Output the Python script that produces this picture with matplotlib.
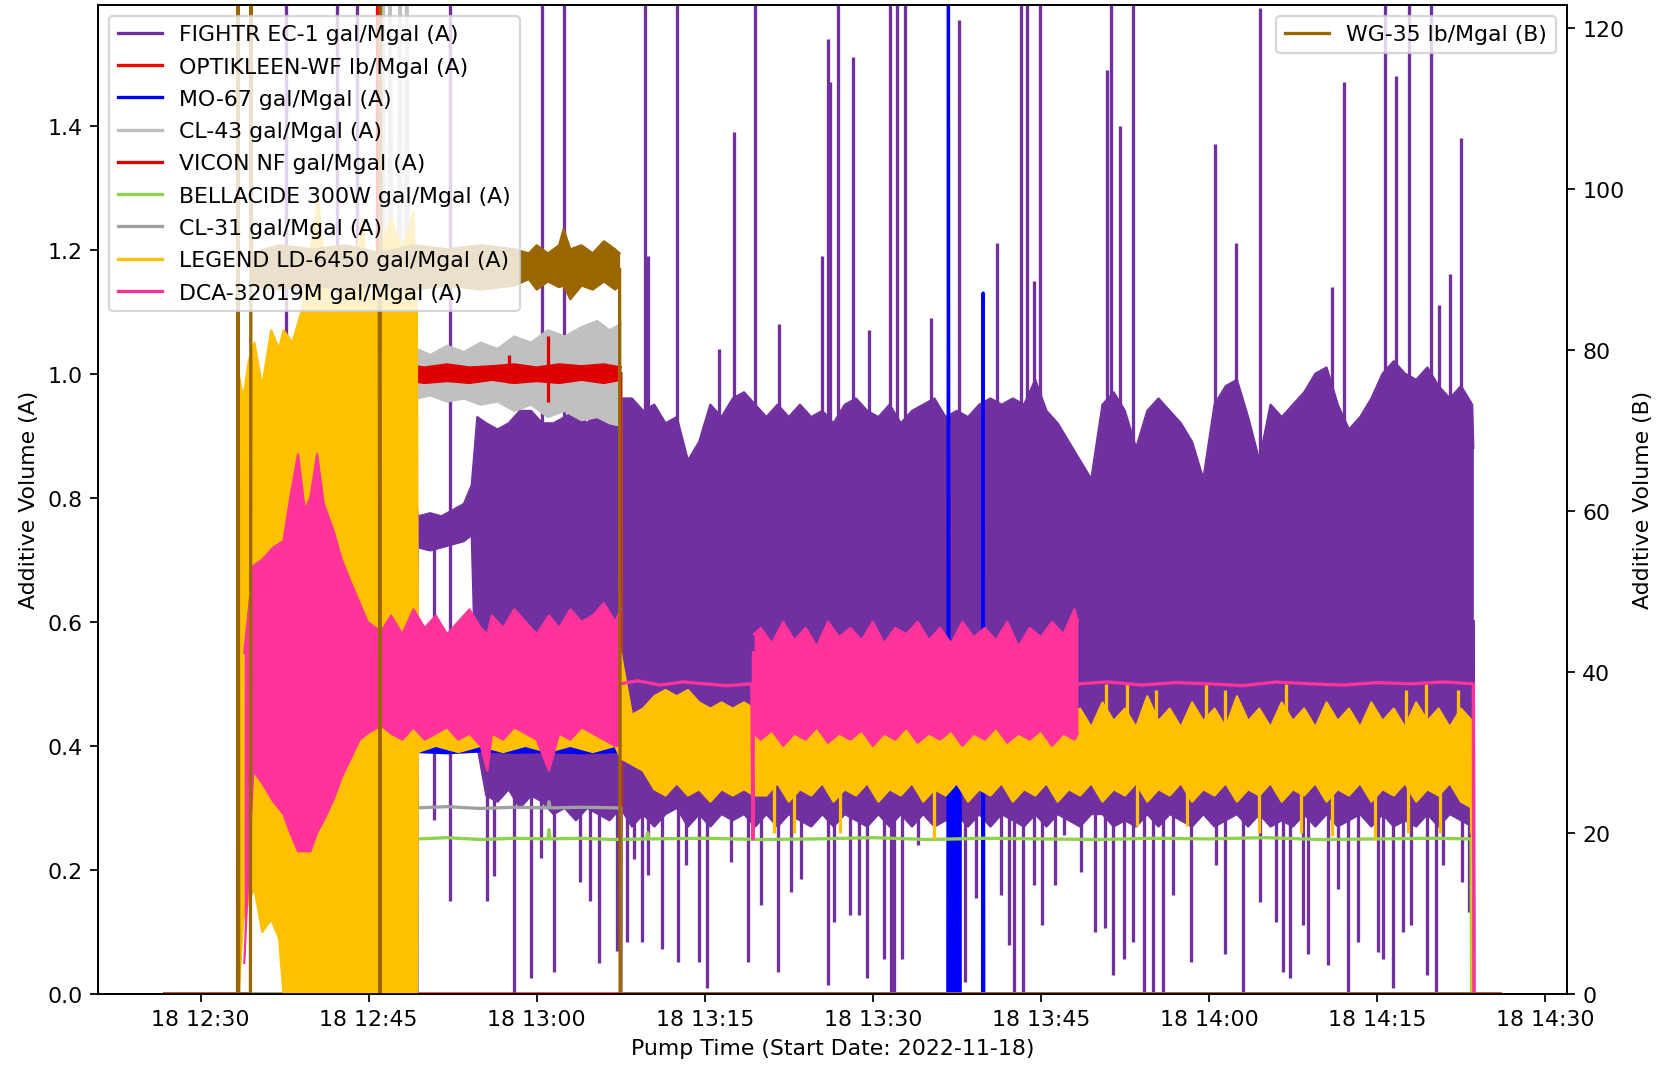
import numpy as np
import matplotlib
matplotlib.use('Agg')
import matplotlib.pyplot as plt
import matplotlib.dates as mdates

nan = np.nan
# times: minutes after 2022-11-18 12:00

# %% FIGHTR EC-1 (A) - dense band: upper / lower envelope + spikes
fightr_t = [33.5, 35, 37, 39, 41, 43, 45, 47, 49.2,
            49.4, 50.5, 51.5, 52.5, 53.5, 54.2,
            54.7, 55.5, 56.5, 57.5, 58.5, 59.5, 60.5, 61.5, 62.5, 63.5, 64.5, 65.5, 66.5, 67.5,
            68.5, 69.5, 70.5, 71.5, 72.5, 73.5, 74.5, 75.5, 76.5, 77.5,
            78.5, 79.5, 80.5, 81.5, 82.5, 83.5, 84.5, 85.5, 86.5, 87.5,
            88.5, 89.5, 90.5, 91.5, 92.5, 93.5, 94.5, 95.5, 96.5, 97.5,
            98.5, 99.5, 100.5, 101.5, 102.5, 103.5, 104.5, 105.5, 106.5, 107.5,
            108.5, 109.5, 110.5, 111.5, 112.5, 113.5, 114.5, 115.5, 116.5, 117.5,
            118.5, 119.5, 120.5, 121.5, 122.5, 123.5, 124.5, 125.5, 126.5, 127.5,
            128.5, 129.5, 130.5, 131.5, 132.5, 133.5, 134.5, 135.5, 136.5, 137.5,
            138.5, 139.5, 140.5, 141.5, 142.5, 143.5, 143.6]
fightr_hi = [0.85, 0.85, 0.88, 0.85, 0.9, 0.85, 0.88, 0.85, 0.8,
             0.77, 0.775, 0.77, 0.78, 0.79, 0.82,
             0.93, 0.92, 0.91, 0.92, 0.94, 0.94, 0.92, 0.92, 0.93, 0.94, 0.92, 0.94, 0.95, 0.96,
             0.96, 0.94, 0.95, 0.92, 0.93, 0.86, 0.89, 0.95, 0.93, 0.96,
             0.97, 0.95, 0.93, 0.95, 0.93, 0.95, 0.93, 0.94, 0.92, 0.95,
             0.96, 0.94, 0.93, 0.95, 0.92, 0.94, 0.95, 0.96, 0.93, 0.94,
             0.93, 0.95, 0.96, 0.95, 0.96, 0.95, 0.99, 0.94, 0.92, 0.89,
             0.86, 0.83, 0.95, 0.97, 0.94, 0.88, 0.94, 0.96, 0.94, 0.92,
             0.89, 0.83, 0.95, 0.98, 0.99, 0.93, 0.86, 0.95, 0.93, 0.95,
             0.97, 1.0, 1.01, 0.95, 0.91, 0.93, 0.96, 1.0, 1.02, 1.0,
             0.99, 1.01, 0.98, 0.96, 0.98, 0.95, 0.88]
fightr_lo = [0.4, 0.4, 0.4, 0.4, 0.4, 0.4, 0.4, 0.4, 0.4,
             0.72, 0.715, 0.72, 0.725, 0.73, 0.74,
             0.40, 0.32, 0.31, 0.33, 0.30, 0.32, 0.31, 0.29, 0.30, 0.28, 0.30, 0.29, 0.28, 0.30,
             0.27, 0.29, 0.27, 0.29, 0.30, 0.27, 0.29, 0.27, 0.29, 0.28,
             0.29, 0.27, 0.29, 0.27, 0.29, 0.28, 0.27, 0.29, 0.27, 0.29,
             0.28, 0.27, 0.29, 0.27, 0.29, 0.27, 0.29, 0.27, 0.28, 0.29,
             0.27, 0.29, 0.27, 0.29, 0.28, 0.27, 0.29, 0.27, 0.29, 0.28,
             0.27, 0.29, 0.29, 0.27, 0.28, 0.27, 0.29, 0.27, 0.29, 0.28,
             0.27, 0.29, 0.27, 0.28, 0.29, 0.27, 0.29, 0.27, 0.28, 0.27,
             0.29, 0.27, 0.29, 0.27, 0.28, 0.29, 0.27, 0.29, 0.27, 0.28,
             0.27, 0.29, 0.27, 0.29, 0.28, 0.27, 0.3]
fightr_up_t = [37.6, 42.2, 44.0, 52.3, 60.5, 62.4, 69.7, 69.9, 72.5, 76.3, 77.6, 79.5, 81.6,
               85.5, 86.0, 86.2, 86.9, 88.2, 89.7, 91.5, 92.2, 92.9, 95.2, 97.7, 101.1,
               103.2, 103.8, 104.4, 104.9, 110.9, 111.3, 112.1, 113.2, 120.5, 122.4, 124.6,
               131.0, 132.1, 135.7, 136.7, 137.9, 139.8, 140.5, 141.5, 142.5]
fightr_up_v = [1.7, 1.7, 1.7, 1.7, 1.7, 1.7, 1.7, 1.19, 1.7, 1.04, 1.39, 1.7, 1.08,
               1.19, 1.54, 1.47, 1.7, 1.51, 1.07, 1.7, 1.7, 1.7, 1.09, 1.57, 1.21,
               1.7, 1.7, 1.15, 1.7, 1.49, 1.7, 1.4, 1.7, 1.37, 1.21, 1.59,
               1.14, 1.47, 1.7, 1.48, 1.7, 1.7, 1.11, 1.16, 1.38]
fightr_dn_t = [42.0, 43.5, 50.8, 52.3, 55.6, 56.2, 58.0, 59.5, 60.4, 61.5, 63.9, 64.8, 65.6, 67.2,
               68.1, 68.7, 69.4, 69.9, 71.2, 72.6, 73.3, 74.5, 75.2, 77.3, 78.9, 80.0, 81.5,
               82.7, 83.6, 86.0, 86.5, 88.0, 88.8, 89.5, 91.0, 91.6, 91.9, 92.6, 94.0,
               98.2, 99.2, 101.4, 102.2, 102.6, 103.4, 104.4, 105.1, 106.3, 107.1, 108.6,
               109.8, 110.7, 111.4, 112.4, 113.2, 114.2, 115.0, 115.9, 116.8, 118.4, 120.6,
               121.4, 123.0, 124.6, 126.0, 126.6, 127.2, 128.4, 128.8, 130.6, 131.5, 132.4,
               133.3, 135.1, 135.5, 136.4, 137.3, 138.0, 139.5, 140.3, 140.9, 142.6, 143.2]
fightr_dn_v = [0.0, 0.0, 0.28, 0.15, 0.15, 0.19, 0.0, 0.025, 0.22, 0.036, 0.18, 0.15, 0.05, 0.07,
               0.084, 0.218, 0.084, 0.191, 0.073, 0.052, 0.208, 0.052, 0.009, 0.213, 0.052, 0.143, 0.036,
               0.165, 0.186, 0.014, 0.116, 0.127, 0.127, 0.025, 0.057, 0.003, 0.003, 0.057, 0.24,
               0.019, 0.154, 0.159, 0.079, 0.003, 0.003, 0.175, 0.111, 0.175, 0.256, 0.197,
               0.1, 0.106, 0.031, 0.057, 0.084, 0.003, 0.003, 0.003, 0.159, 0.052, 0.208,
               0.065, 0.003, 0.149, 0.116, 0.036, 0.025, 0.111, 0.065, 0.047, 0.17, 0.003,
               0.084, 0.068, 0.057, 0.009, 0.1, 0.111, 0.031, 0.003, 0.208, 0.18, 0.132]
fightr_line_t = [26.8, 33.5, nan, 143.6, 143.65, 146.0]
fightr_line_v = [0, 0, nan, 0.6, 0, 0]

# %% OPTIKLEEN-WF (A)
opti_t = [26.8, 45.75, 45.8, 45.85, 146.0]
opti_v = [0, 0, 1.7, 0, 0]

# %% MO-67 (A)
mo_t = [26.8, 49.3, 49.35, 51, 53, 55, 57, 59, 61, 63, 65, 67.5, 67.55,
        96.7, 96.75, 96.8, 99.8, 99.85, 99.9, 146.0]
mo_v = [0, 0, 0.4, 0.398, 0.402, 0.4, 0.397, 0.401, 0.4, 0.398, 0.402, 0.4, 0,
        0, 1.7, 0, 0, 1.13, 0, 0]
mo_band_t = [49.35, 52, 55, 58, 61, 64, 67.5, nan, 96.8, 97.2, 97.6, 97.9, nan, 99.65, 100.0]
mo_band_hi = [0.408, 0.41, 0.407, 0.41, 0.408, 0.41, 0.408, nan, 0.33, 0.34, 0.33, 0.33, nan, 0.33, 0.33]
mo_band_lo = [0.39, 0.388, 0.391, 0.389, 0.39, 0.388, 0.39, nan, 0, 0, 0, 0, nan, 0, 0]

# %% CL-43 (A)
cl43_t = [26.8, 46.0, 46.3, 46.6, 46.9, 47.4, 47.8, 48.1, 48.4, 48.8, 49.2, nan, 67.5, 67.55, 146.0]
cl43_v = [0, 0, 1.7, 0.03, 1.7, 0.05, 1.7, 0.1, 1.7, 0.12, 1.0, nan, 1.0, 0, 0]
cl43_band_t = [49.3, 50.5, 52, 53.5, 55, 56.5, 58, 59.5, 61, 62.5, 64, 65.4, 66.5, 67.5]
cl43_band_hi = [1.04, 1.03, 1.045, 1.035, 1.05, 1.04, 1.06, 1.05, 1.07, 1.06, 1.075, 1.085, 1.07, 1.08]
cl43_band_lo = [0.96, 0.965, 0.955, 0.96, 0.95, 0.955, 0.94, 0.95, 0.93, 0.94, 0.925, 0.93, 0.92, 0.916]

# %% VICON NF (A)
vicon_t = [26.8, 45.85, 45.9, nan, 67.5, 67.55, 146.0]
vicon_v = [0, 0, 1.0, nan, 1.0, 0, 0]
vicon_band_t = [45.9, 46.5, 48, 50, 52, 54, 56, 58, 60, 62, 64, 66, 67.5]
vicon_band_hi = [1.05, 1.02, 1.015, 1.01, 1.015, 1.01, 1.012, 1.015, 1.01, 1.015, 1.012, 1.015, 1.01]
vicon_band_lo = [0.99, 0.985, 0.99, 0.985, 0.988, 0.985, 0.99, 0.985, 0.988, 0.985, 0.99, 0.985, 0.99]
vicon_spk_t = [46.8, 57.5, 61.0]
vicon_spk_hi = [1.09, 1.03, 1.06]
vicon_spk_lo = [0.93, 0.985, 0.955]

# %% BELLACIDE 300W (A)
bell_t = [26.8, 49.3, 49.35, 52, 55, 58, 61.0, 61.1, 61.2, 64, 67, 69.8, 69.9, 70.0, 75, 80, 85,
          90, 95, 100, 105, 110, 115, 120, 125, 130, 135, 140, 143.4, 143.45, 146.0]
bell_v = [0, 0, 0.25, 0.252, 0.249, 0.251, 0.25, 0.265, 0.25, 0.251, 0.249, 0.25, 0.26, 0.25, 0.251, 0.249, 0.25,
          0.252, 0.249, 0.251, 0.25, 0.249, 0.251, 0.25, 0.252, 0.249, 0.25, 0.251, 0.25, 0, 0]

# %% CL-31 (A)
cl31_t = [26.8, 49.3, 49.35, 52, 55, 58, 61.0, 61.1, 61.2, 64, 67.5, 67.55, 146.0]
cl31_v = [0, 0, 0.3, 0.302, 0.299, 0.301, 0.3, 0.31, 0.3, 0.301, 0.3, 0, 0]

# %% LEGEND LD-6450 (A)
leg_t = [33.4, 33.8, 34.3, 34.8, 35.5, 36.3, 37.0, 37.4, 38.2, 39.0, 39.8, 40.5, 41.2, 42.0,
         42.8, 43.6, 44.4, 45.2, 46.0, 47.0, 48.0, 49.0, 49.3,
         49.4, 51, 53, 55, 57, 59, 61, 63, 65, 67, 67.5,
         68.5, 69.5, 70.5, 71.5, 72.5, 73.5, 74.5, 75.5, 76.5, 77.5, 78.5, 79.4,
         80.5, 81.5, 82.5, 83.5, 84.5, 85.5, 86.5, 87.5, 88.5, 89.5,
         90.5, 91.5, 92.5, 93.5, 94.5, 95.5, 96.5, 97.5, 98.5, 99.5,
         100.5, 101.5, 102.5, 103.5, 104.5, 105.5, 106.5, 107.5,
         108.5, 109.5, 110.5, 111.5, 112.5, 113.5, 114.5, 115.5, 116.5, 117.5,
         118.5, 119.5, 120.5, 121.5, 122.5, 123.5, 124.5, 125.5, 126.5, 127.5,
         128.5, 129.5, 130.5, 131.5, 132.5, 133.5, 134.5, 135.5, 136.5, 137.5,
         138.5, 139.5, 140.5, 141.5, 142.5, 143.5]
leg_hi = [1.0, 0.96, 1.02, 1.05, 0.98, 1.07, 1.04, 1.07, 1.05, 1.1, 1.2, 1.28, 1.15, 1.1,
          1.2, 1.15, 1.25, 1.1, 1.2, 1.25, 1.2, 1.26, 1.1,
          0.55, 0.55, 0.55, 0.55, 0.55, 0.55, 0.55, 0.55, 0.55, 0.55, 0.55,
          0.45, 0.46, 0.48, 0.49, 0.48, 0.49, 0.47, 0.46, 0.47, 0.46, 0.47, 0.46,
          0.44, 0.45, 0.44, 0.45, 0.44, 0.45, 0.44, 0.45, 0.44, 0.45,
          0.44, 0.45, 0.44, 0.45, 0.44, 0.45, 0.44, 0.45, 0.44, 0.45,
          0.44, 0.45, 0.44, 0.45, 0.44, 0.45, 0.44, 0.45,
          0.46, 0.43, 0.47, 0.44, 0.46, 0.43, 0.48, 0.44, 0.46, 0.43,
          0.47, 0.44, 0.46, 0.43, 0.48, 0.44, 0.46, 0.43, 0.47, 0.44,
          0.46, 0.43, 0.47, 0.44, 0.46, 0.43, 0.47, 0.44, 0.46, 0.43,
          0.47, 0.44, 0.46, 0.43, 0.46, 0.44]
leg_lo = [0.0, 0.12, 0.15, 0.17, 0.10, 0.12, 0.09, 0.0, 0.0, 0.0, 0.0, 0.0, 0.0, 0.0,
          0.0, 0.0, 0.0, 0.0, 0.0, 0.0, 0.0, 0.0, 0.0,
          0.39, 0.4, 0.39, 0.4, 0.39, 0.4, 0.39, 0.4, 0.39, 0.4, 0.38,
          0.37, 0.36, 0.33, 0.32, 0.34, 0.32, 0.33, 0.31, 0.33, 0.32, 0.33, 0.32,
          0.32, 0.34, 0.31, 0.33, 0.32, 0.34, 0.31, 0.33, 0.32, 0.34,
          0.31, 0.33, 0.32, 0.34, 0.31, 0.33, 0.32, 0.34, 0.31, 0.33,
          0.32, 0.34, 0.31, 0.33, 0.32, 0.34, 0.31, 0.33,
          0.32, 0.34, 0.31, 0.33, 0.32, 0.34, 0.31, 0.33, 0.32, 0.34,
          0.31, 0.33, 0.32, 0.34, 0.31, 0.33, 0.32, 0.34, 0.31, 0.33,
          0.32, 0.34, 0.31, 0.33, 0.32, 0.34, 0.31, 0.33, 0.32, 0.34,
          0.31, 0.33, 0.32, 0.34, 0.31, 0.30]
leg_spk_t = [81.2, 83.0, 87.1, 95.5, 113.6, 118.0, 124.5, 128.2, 131.0, 134.8, 137.8, 140.6, 143.4,
             110.8, 112.7, 115.3, 119.7, 121.4, 126.9, 137.6, 139.4, 142.2]
leg_spk_v = [0.26, 0.26, 0.26, 0.25, 0.27, 0.27, 0.26, 0.26, 0.255, 0.25, 0.26, 0.26, 0.26,
             0.5, 0.5, 0.49, 0.5, 0.49, 0.5, 0.49, 0.5, 0.49]
leg_line_t = [26.8, 33.4, nan, 143.5, 143.55, 146.0]
leg_line_v = [0, 0, nan, 0.3, 0, 0]

# %% DCA-32019M (A)
dca_t1 = [33.9, 34.7, 35.5, 36.5, 37.4, 38.0, 38.7, 39.3, 39.8, 40.4, 41.0, 41.9, 42.6, 43.4,
          44.2, 44.9, 46.1, 47, 48, 49, 50, 51, 52, 53, 54, 55, 55.6, 56, 57, 58, 59, 60,
          61.1, 62, 63, 64, 65, 66, 67, 67.5]
dca_hi1 = [0.55, 0.69, 0.70, 0.72, 0.73, 0.80, 0.87, 0.78, 0.80, 0.87, 0.79, 0.745, 0.70, 0.664,
           0.63, 0.60, 0.584, 0.61, 0.58, 0.62, 0.59, 0.61, 0.58, 0.60, 0.62, 0.59, 0.58, 0.61, 0.59,
           0.62, 0.60, 0.58, 0.61, 0.59, 0.62, 0.60, 0.61, 0.63, 0.6, 0.62]
dca_lo1 = [0.05, 0.36, 0.34, 0.31, 0.29, 0.26, 0.23, 0.23, 0.23, 0.26, 0.28, 0.315, 0.35, 0.38,
           0.41, 0.42, 0.433, 0.42, 0.41, 0.43, 0.41, 0.42, 0.43, 0.41, 0.42, 0.40, 0.36, 0.42, 0.41,
           0.43, 0.42, 0.41, 0.36, 0.42, 0.41, 0.43, 0.42, 0.41, 0.40, 0.40]
dca_t2 = [79.4, 80, 81, 82, 83, 84, 85, 86, 87, 88, 89, 90, 91, 92, 93, 94, 95, 96, 97, 98, 99,
          100, 101, 102, 103, 104, 105, 106, 107, 108, 108.3]
dca_hi2 = [0.58, 0.59, 0.565, 0.60, 0.57, 0.59, 0.56, 0.60, 0.575, 0.59, 0.57,
           0.60, 0.565, 0.59, 0.58, 0.60, 0.57, 0.59, 0.565, 0.60, 0.575,
           0.59, 0.57, 0.60, 0.56, 0.59, 0.575, 0.60, 0.58, 0.62, 0.60]
dca_lo2 = [0.42, 0.41, 0.425, 0.40, 0.42, 0.41, 0.43, 0.405, 0.42, 0.41, 0.425,
           0.40, 0.42, 0.41, 0.43, 0.405, 0.42, 0.41, 0.425, 0.40, 0.42,
           0.41, 0.43, 0.405, 0.42, 0.41, 0.425, 0.40, 0.42, 0.41, 0.42]
dca_flat_t = [26.8, 33.9, nan, 67.5, 69, 71, 73, 75, 77, 79.2, 79.3, 79.35, nan,
              108.3, 111, 114, 117, 120, 123, 126, 129, 132, 135, 138, 141, 143.6, 143.65, 146.0]
dca_flat_v = [0, 0, nan, 0.5, 0.505, 0.498, 0.503, 0.5, 0.497, 0.5, 0.25, 0.55, nan,
              0.5, 0.503, 0.498, 0.502, 0.5, 0.497, 0.503, 0.5, 0.498, 0.502, 0.5, 0.503, 0.5, 0.0, 0.0]

# %% WG-35 (B)
wg_t = [26.8, 33.3, 33.35, 33.4, 34.45, 34.5, 34.55, nan, 45.95, 46.0, 46.05, 46.1, nan, 67.4, 67.45, 146.0]
wg_v = [0, 0, 130, 0, 0, 130, 90, nan, 90, 0, 130, 90, nan, 90, 0, 0]
wg_band_t = [34.55, 37, 40, 43, 46, 49, 52, 55, 58, 59.3, 60, 61, 62, 62.4, 63, 64, 65, 66, 67, 67.4]
wg_band_hi = [92, 93, 92.5, 93, 92, 93, 92.5, 93, 92.5, 92, 93, 92, 93, 95, 92.5, 93, 92, 93.5, 92.5, 92]
wg_band_lo = [88, 87.5, 88, 87.5, 88, 87.5, 88, 87.5, 88, 88.8, 87.5, 88.5, 87.8, 88, 86.3, 88, 87.5, 88.5, 87.5, 88]

labels = ['FIGHTR EC-1 gal/Mgal (A)', 'OPTIKLEEN-WF lb/Mgal (A)', 'MO-67 gal/Mgal (A)',
          'CL-43 gal/Mgal (A)', 'VICON NF gal/Mgal (A)', 'BELLACIDE 300W gal/Mgal (A)',
          'CL-31 gal/Mgal (A)', 'LEGEND LD-6450 gal/Mgal (A)', 'DCA-32019M gal/Mgal (A)']
colors = ['#7030a0', '#ff0000', '#0000ff', '#c0c0c0', '#dd0000', '#92d050',
          '#a0a0a0', '#ffc000', '#ff3399']
wg_label = 'WG-35 lb/Mgal (B)'
wg_color = '#996600'

base = mdates.date2num(np.datetime64('2022-11-18T12:00:00'))


def tx(m):
    return base + np.asarray(m, dtype=float) / 1440.0


def band(ax, t, hi, lo, color, z):
    t, hi, lo = np.asarray(t, float), np.asarray(hi, float), np.asarray(lo, float)
    # split on nan gaps
    cuts = np.where(np.isnan(t))[0]
    start = 0
    for end in list(cuts) + [len(t)]:
        s = slice(start, end)
        x = tx(t[s])
        ax.fill_between(x, lo[s], hi[s], color=color, lw=0, zorder=z)
        ax.plot(x, hi[s], color=color, lw=1.0, zorder=z)
        ax.plot(x, lo[s], color=color, lw=1.0, zorder=z)
        start = end + 1


fig = plt.figure(figsize=(10.544, 6.753), dpi=158)
ax = fig.add_subplot(111)
fig.subplots_adjust(left=0.0588, right=0.9406, bottom=0.0675, top=0.9948)
ax.xaxis_date()

# FIGHTR
z = 2.0
ax.plot(tx(fightr_line_t), fightr_line_v, color=colors[0], lw=1.5, zorder=z, label=labels[0])
band(ax, fightr_t, fightr_hi, fightr_lo, colors[0], z)
mid = (np.array(fightr_hi) + np.array(fightr_lo)) / 2
ax.vlines(tx(fightr_up_t), np.interp(fightr_up_t, fightr_t, mid), fightr_up_v,
          colors=colors[0], lw=1.5, zorder=z)
ax.vlines(tx(fightr_dn_t), fightr_dn_v, np.interp(fightr_dn_t, fightr_t, mid),
          colors=colors[0], lw=1.5, zorder=z)

# OPTIKLEEN
ax.plot(tx(opti_t), opti_v, color=colors[1], lw=1.5, zorder=2.1, label=labels[1])

# MO-67
ax.plot(tx(mo_t), mo_v, color=colors[2], lw=1.5, zorder=2.2, label=labels[2])
band(ax, mo_band_t, mo_band_hi, mo_band_lo, colors[2], 2.2)

# CL-43
ax.plot(tx(cl43_t), cl43_v, color=colors[3], lw=1.5, zorder=2.3, label=labels[3])
band(ax, cl43_band_t, cl43_band_hi, cl43_band_lo, colors[3], 2.3)

# VICON
ax.plot(tx(vicon_t), vicon_v, color=colors[4], lw=1.5, zorder=2.4, label=labels[4])
band(ax, vicon_band_t, vicon_band_hi, vicon_band_lo, colors[4], 2.4)
ax.vlines(tx(vicon_spk_t), vicon_spk_lo, vicon_spk_hi, colors=colors[4], lw=1.5, zorder=2.4)

# BELLACIDE
ax.plot(tx(bell_t), bell_v, color=colors[5], lw=1.5, zorder=2.5, label=labels[5])

# CL-31
ax.plot(tx(cl31_t), cl31_v, color=colors[6], lw=1.5, zorder=2.6, label=labels[6])

# LEGEND LD-6450
ax.plot(tx(leg_line_t), leg_line_v, color=colors[7], lw=1.5, zorder=2.7, label=labels[7])
band(ax, leg_t, leg_hi, leg_lo, colors[7], 2.7)
leg_mid = (np.array(leg_hi) + np.array(leg_lo)) / 2
ax.vlines(tx(leg_spk_t), np.interp(leg_spk_t, leg_t, leg_mid), leg_spk_v,
          colors=colors[7], lw=1.5, zorder=2.7)

# DCA
ax.plot(tx(dca_flat_t), dca_flat_v, color=colors[8], lw=1.5, zorder=2.8, label=labels[8])
band(ax, dca_t1, dca_hi1, dca_lo1, colors[8], 2.8)
band(ax, dca_t2, dca_hi2, dca_lo2, colors[8], 2.8)

ax.set_ylim(0, 1.595)
ax.set_ylabel('Additive Volume (A)')
ax.set_xlabel('Pump Time (Start Date: 2022-11-18)')

# WG-35 on the right axis
ax2 = ax.twinx()
ax2.plot(tx(wg_t), wg_v, color=wg_color, lw=1.5, label=wg_label)
band(ax2, wg_band_t, wg_band_hi, wg_band_lo, wg_color, 2)
ax2.set_ylim(0, 122.9)
ax2.set_ylabel('Additive Volume (B)')

h1, l1 = ax.get_legend_handles_labels()
h2, l2 = ax2.get_legend_handles_labels()
leg1 = ax2.legend(h1, l1, loc='upper left', labelspacing=0.56)
ax2.add_artist(leg1)
ax2.legend(h2, l2, loc='upper right')

fig.savefig('out.png', dpi=158)
